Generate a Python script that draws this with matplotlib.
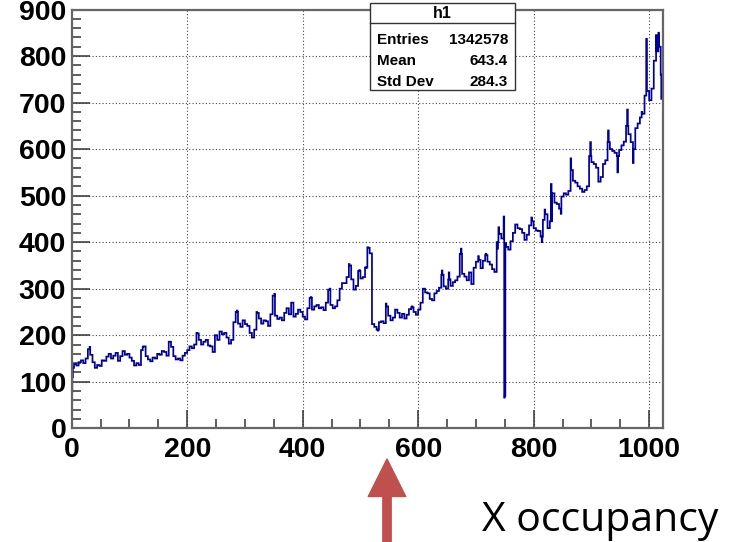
import numpy as np
import matplotlib.pyplot as plt
from matplotlib.patches import Rectangle
from matplotlib.lines import Line2D
from matplotlib.text import Annotation

W, H = 731, 542  # figure size in pixels

# channel occupancy, one value per group of 4 channels (0..1024)
grouped = [130, 138, 135, 142, 146, 140, 150, 170, 158, 142, 130, 136, 134, 146, 145, 154,   # 0-64
           160, 150, 156, 162, 145, 155, 166, 158, 160, 152, 145, 135, 140, 136, 168, 176,   # 64-128
           155, 148, 144, 152, 150, 160, 158, 166, 164, 156, 186, 175, 155, 148, 150, 146,   # 128-192
           156, 162, 168, 176, 172, 180, 204, 190, 180, 186, 190, 178, 176, 164, 200, 190,   # 192-256
           208, 202, 205, 195, 182, 190, 228, 250, 225, 218, 232, 224, 220, 205, 195, 212,   # 256-320
           248, 236, 225, 232, 230, 220, 245, 285, 242, 235, 238, 232, 248, 258, 245, 270,   # 320-384
           240, 246, 255, 250, 240, 234, 258, 280, 255, 262, 265, 258, 260, 254, 270, 298,   # 384-448
           265, 258, 262, 275, 300, 312, 312, 325, 350, 320, 298, 306, 338, 322, 325, 345,   # 448-512
           388, 376, 224, 218, 212, 228, 230, 226, 262, 242, 232, 238, 255, 248, 238, 246,   # 512-576
           236, 244, 256, 260, 250, 244, 255, 270, 300, 292, 290, 278, 275, 290, 295, 302,   # 576-640
           330, 305, 300, 320, 306, 314, 318, 326, 375, 332, 326, 318, 335, 310, 345, 358,   # 640-704
           362, 344, 360, 372, 358, 352, 342, 336, 400, 418, 408, 398, 390, 384, 402, 420,   # 704-768
           438, 430, 428, 420, 405, 416, 436, 445, 430, 425, 424, 412, 448, 460, 430, 445,   # 768-832
           505, 485, 482, 472, 498, 505, 502, 510, 555, 532, 528, 520, 515, 508, 512, 520,   # 832-896
           585, 572, 568, 560, 530, 540, 568, 576, 615, 600, 596, 592, 585, 598, 608, 616,   # 896-960
           650, 632, 615, 600, 645, 655, 668, 676, 715, 725, 705, 730, 790, 810, 820, 760]   # 960-1024

# single channels that stand out from the grouped values
spikes = {0: 78, 1: 110, 31: 175, 123: 175, 216: 205, 245: 164,
          286: 253, 313: 195, 320: 250, 351: 289, 372: 258, 382: 270,
          414: 282, 447: 300, 480: 353, 498: 340, 509: 346, 512: 389,
          530: 210, 544: 268, 589: 262, 608: 300, 641: 339, 653: 335,
          674: 386, 694: 310, 704: 370, 717: 375, 737: 386, 739: 432,
          748: 455, 749: 66, 750: 70, 796: 453, 814: 400, 819: 470,
          830: 525, 847: 461, 864: 580, 898: 615, 929: 640, 945: 550,
          962: 685, 972: 570, 987: 680, 995: 837, 1012: 845, 1016: 850,
          1021: 708, 1022: 712}

stats_name = 'h1'
stats_rows = [('Entries', '1342578'), ('Mean', '643.4'), ('Std Dev', '284.3')]

counts = np.repeat(np.array(grouped, dtype=float), 4)
for ch, v in spikes.items():
    counts[ch] = v
edges = np.arange(len(counts) + 1)

plt.rcParams['font.family'] = ['Liberation Sans', 'DejaVu Sans']

fig = plt.figure(figsize=(W / 100, H / 100), dpi=100)
ax = fig.add_axes([71.7 / W, 1 - 428.3 / H, (663 - 71.7) / W, (428.3 - 9.5) / H])

ax.stairs(counts, edges, baseline=None, color='#000099', lw=1.25)

ax.set_xlim(0, 1024)
ax.set_ylim(0, 900)
ax.set_xticks(np.arange(0, 1001, 200))
ax.set_xticks(np.arange(0, 1024, 50), minor=True)
ax.set_yticks(np.arange(0, 901, 100))
ax.set_yticks(np.arange(0, 901, 20), minor=True)

ax.grid(True, which='major', color='#444444', lw=0.8, ls=(0, (1, 2)))
ax.set_axisbelow(True)

ax.tick_params(which='major', direction='in', length=13, width=1.1,
               color='#333333', labelsize=20.5, pad=6)
ax.tick_params(which='minor', direction='in', length=6.5, width=1.1,
               color='#333333')
ax.tick_params(axis='y', which='major', pad=4)
for lab in ax.get_xticklabels() + ax.get_yticklabels():
    lab.set_fontweight('bold')

for sp in ax.spines.values():
    sp.set_color('#666666')
    sp.set_linewidth(1.6)


def fx(px):
    return px / W


def fy(py):
    return 1 - py / H


# statistics box
box = Rectangle((fx(370), fy(90)), fx(515) - fx(370), (90 - 3) / H,
                transform=fig.transFigure, facecolor='white',
                edgecolor='#333333', lw=1.0, zorder=5)
fig.add_artist(box)
fig.add_artist(Line2D([fx(370), fx(515)], [fy(23), fy(23)],
                      transform=fig.transFigure, color='#333333',
                      lw=1.0, zorder=6))
fig.text(fx(442.5), fy(13.5), stats_name, ha='center', va='center',
         fontsize=11.5, fontweight='bold', zorder=7)
for (name, val), py in zip(stats_rows, [40, 61, 82]):
    fig.text(fx(377), fy(py), name, ha='left', va='center',
             fontsize=11, fontweight='bold', zorder=7)
    fig.text(fx(508), fy(py), val, ha='right', va='center',
             fontsize=11, fontweight='bold', zorder=7)

# red pointer under the axis
fig.add_artist(Annotation(
    '', xy=(fx(387), fy(459)), xytext=(fx(387), fy(560)),
    xycoords='figure fraction', textcoords='figure fraction',
    arrowprops=dict(facecolor='#C0504D', edgecolor='#C0504D', width=6,
                    headwidth=27, headlength=27, shrink=0,
                    joinstyle='round')))

fig.text(fx(718), fy(531), 'X occupancy', ha='right', va='baseline',
         fontsize=29.5, family=['Open Sans', 'DejaVu Sans'])

fig.savefig('out.png', dpi=100)
